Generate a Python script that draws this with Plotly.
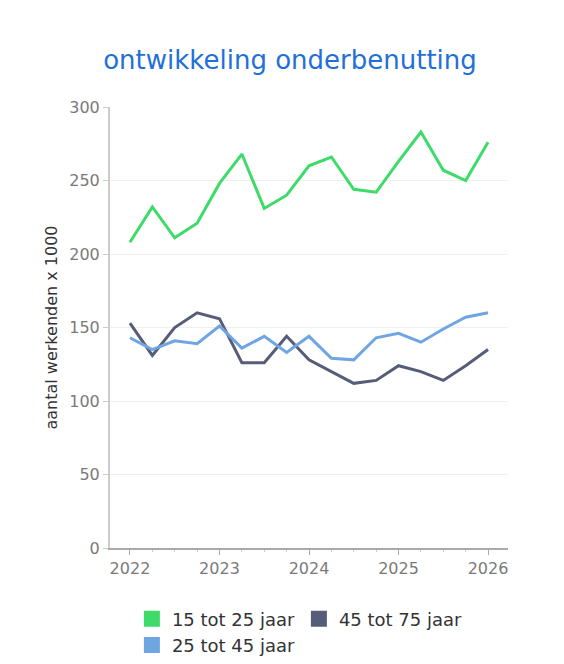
import plotly.graph_objects as go

# kwartalen 2022 Q1 .. 2026 Q1
kwartalen = [2022 + i * 0.25 for i in range(17)]

jong = [208, 232, 211, 221, 248, 268, 231, 240, 260, 266, 244, 242, 263, 283, 257, 250, 276]
midden = [143, 135, 141, 139, 151, 136, 144, 133, 144, 129, 128, 143, 146, 140, 149, 157, 160]
oud = [153, 131, 150, 160, 156, 126, 126, 144, 128, 120, 112, 114, 124, 120, 114, 124, 135]

jaar_ticks = [2022, 2023, 2024, 2025, 2026]
y_ticks = [0, 50, 100, 150, 200, 250, 300]

series = [
    ("15 tot 25 jaar", jong, "#3fdb6a"),
    ("45 tot 75 jaar", oud, "#575d78"),
    ("25 tot 45 jaar", midden, "#6fa6e2"),
]

fig = go.Figure()
for name, vals, col in series:
    fig.add_trace(go.Scatter(x=kwartalen, y=vals, mode="lines", name=name,
                             line=dict(color=col, width=3), showlegend=False))
# legend entries with square swatches
for name, vals, col in series:
    fig.add_trace(go.Scatter(x=[None], y=[None], mode="markers", name=name,
                             marker=dict(color=col, symbol="square", size=18)))

font = "DejaVu Sans"
# page body adds 8px offset, so margins are compensated
fig.update_layout(
    width=564, height=664,
    margin=dict(l=102, r=64, t=99, b=124, autoexpand=False),
    paper_bgcolor="white", plot_bgcolor="white",
    font=dict(family=font, color="#333"),
    title=dict(text="ontwikkeling onderbenutting", x=0.5, xanchor="center",
               y=1 - 52 / 664, yanchor="middle",
               font=dict(family=font, size=26, color="#1f70d8")),
    legend=dict(orientation="h", x=0.055, xanchor="left",
                yref="container", y=0.1077, yanchor="top",
                entrywidth=122, entrywidthmode="pixels", tracegroupgap=0,
                itemwidth=30, font=dict(size=18, color="#333")),
)
fig.update_xaxes(range=[2021.777, 2026.223], tickvals=jaar_ticks,
                 ticktext=[str(j) for j in jaar_ticks],
                 showgrid=False, zeroline=False, automargin=False,
                 showline=True, linecolor="#aaaaaa", linewidth=1.5,
                 ticks="outside", ticklen=5, tickcolor="#aaaaaa",
                 minor=dict(dtick=0.25, tick0=2022, ticks="outside", ticklen=2,
                            tickcolor="#cccccc"),
                 tickfont=dict(size=16, color="#7a7a7a"))
fig.update_yaxes(range=[0, 300], tickvals=y_ticks, automargin=False,
                 showgrid=True, gridcolor="#f0f0f0", zeroline=False,
                 showline=True, linecolor="#cccccc", linewidth=2,
                 ticks="outside", ticklen=5, tickcolor="#cccccc",
                 tickfont=dict(size=16, color="#7a7a7a"),
                 title=dict(text="aantal werkenden x 1000", standoff=8,
                            font=dict(size=16, color="#333")))

fig.write_html("out.html")
